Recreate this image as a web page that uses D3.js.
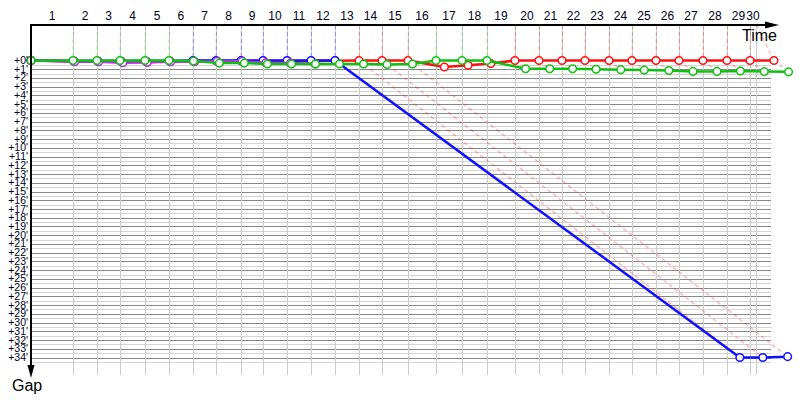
<!DOCTYPE html>
<html>
<head>
<meta charset="utf-8">
<script src="https://cdnjs.cloudflare.com/ajax/libs/d3/7.8.5/d3.min.js"></script>
<style>
  body { margin: 0; background: #fff; }
  svg { display: block; font-family: "Liberation Sans", Arial, sans-serif; }
</style>
</head>
<body>
<div id="chart"></div>
<script>
// leader's cumulative time (minutes) at the end of each lap 1..30
var lapTimes = [3.75, 5.89, 7.95, 10.18, 12.32, 14.46, 16.52, 18.75, 20.71, 22.86,
  25.0, 27.14, 29.29, 31.34, 33.66, 36.16, 38.48, 40.71, 43.21, 45.36,
  47.41, 49.46, 51.61, 53.66, 55.80, 57.86, 60.0, 62.14, 64.2, 66.34];
// race clock runs out here (lap 30 mark is capped to it)
var flagTime = 64.73;
var lapLabels = d3.range(1, 31).map(String);
// who led each lap 1..30
var leaders = ['green', 'green', 'green', 'green', 'green', 'blue', 'blue', 'blue', 'blue', 'blue',
  'blue', 'blue', 'red', 'red', 'red', 'green', 'green', 'green', 'red', 'red',
  'red', 'red', 'red', 'red', 'red', 'red', 'red', 'red', 'red', 'red'];
// gap to leader (minutes) per lap, starting at lap 0
var redGaps = [0, 0.1, 0.1, 0.15, 0.2, 0.1, 0.05, 0.05, 0.05, 0.05, 0.05, 0.05, 0.02,
  0, 0, 0, 0.75, 0.55, 0.35, 0, 0, 0, 0, 0, 0, 0, 0, 0, 0, 0, 0];
var blueGaps = [0, 0.05, 0.05, 0.05, 0.05, 0.05, 0, 0, 0, 0, 0, 0, 0, 34.0, 34.0, 33.9];
var purpleGaps = [0, 0.15, 0.15, 0.25, 0.2, 0.15, 0.15, 0.1, 0.1, 0.25, 0.3, 0.4];
var greenGaps = [0, 0, 0, 0, 0, 0, 0.05, 0.3, 0.3, 0.4, 0.4, 0.4, 0.4, 0.4, 0.45, 0.4,
  0, 0, 0, 0.95, 0.95, 0.95, 1.0, 1.05, 1.1, 1.15, 1.25, 1.25, 1.2, 1.27, 1.3];
var gapTicks = d3.range(0, 35);

var colors = { red: '#ff1010', blue: '#1010ff', purple: '#b030e0', green: '#10c010' };
// drawing order, last on top
var drivers = [
  { name: 'red', gaps: redGaps },
  { name: 'blue', gaps: blueGaps },
  { name: 'purple', gaps: purpleGaps },
  { name: 'green', gaps: greenGaps }
];

var width = 800, height = 400;
var axisY = 25, axisX = 31;

var x = d3.scaleLinear().domain([0, lapTimes[lapTimes.length - 1]]).range([31, 774]);
var y = d3.scaleLinear().domain([0, 34]).range([60.5, 357.5]);

var svg = d3.select('#chart').append('svg')
  .attr('width', width)
  .attr('height', height);

var lapStart = function(n) { return n === 0 ? 0 : lapTimes[n - 1]; };
var markTime = function(n) { return Math.min(lapTimes[n - 1], flagTime); };

// horizontal grid
var grid = svg.append('g');
grid.selectAll('line.half')
  .data(gapTicks)
  .enter().append('line')
  .attr('class', 'half')
  .attr('x1', axisX).attr('x2', 771)
  .attr('y1', function(g) { return Math.round(y(g + 0.5)) + 0.5; })
  .attr('y2', function(g) { return Math.round(y(g + 0.5)) + 0.5; })
  .attr('stroke', '#d4d4d4');
grid.selectAll('line.full')
  .data(gapTicks.slice(1))
  .enter().append('line')
  .attr('class', 'full')
  .attr('x1', axisX).attr('x2', 771)
  .attr('y1', function(g) { return Math.round(y(g)) + 0.5; })
  .attr('y2', function(g) { return Math.round(y(g)) + 0.5; })
  .attr('stroke', '#888888');

// vertical lap grid
grid.selectAll('line.lap')
  .data(d3.range(1, 31))
  .enter().append('line')
  .attr('class', 'lap')
  .attr('x1', function(n) { return Math.round(x(markTime(n))) + 0.5; })
  .attr('x2', function(n) { return Math.round(x(markTime(n))) + 0.5; })
  .attr('y1', axisY).attr('y2', 375)
  .attr('stroke', '#cccccc');

// connectors: axis -> leader, leader -> others
var conn = svg.append('g')
  .attr('fill', 'none')
  .attr('stroke-dasharray', '4,3');
d3.range(1, 31).forEach(function(n) {
  var lead = leaders[n - 1];
  var lx = x(lapTimes[n - 1]);
  conn.append('line')
    .attr('x1', Math.round(x(markTime(n))) + 0.5)
    .attr('y1', axisY)
    .attr('x2', lx).attr('y2', y(0))
    .attr('stroke', colors[lead])
    .attr('stroke-opacity', 0.32)
    .attr('stroke-width', 1.2);
  drivers.forEach(function(d) {
    if (d.name === lead || d.gaps[n] === undefined || d.gaps[n] === 0) return;
    conn.append('line')
      .attr('x1', lx).attr('y1', y(0))
      .attr('x2', x(lapTimes[n - 1] + d.gaps[n]))
      .attr('y2', y(d.gaps[n]))
      .attr('stroke', colors[lead])
      .attr('stroke-opacity', 0.3)
      .attr('stroke-width', 1.5);
  });
});

// driver lines
var line = d3.line()
  .x(function(p) { return x(p.t); })
  .y(function(p) { return y(p.g); });

drivers.forEach(function(d) {
  var pts = d.gaps.map(function(g, n) { return { t: lapStart(n) + g, g: g }; });
  var grp = svg.append('g');
  grp.append('path')
    .datum(pts)
    .attr('d', line)
    .attr('fill', 'none')
    .attr('stroke', colors[d.name])
    .attr('stroke-width', 2.5)
    .attr('stroke-linejoin', 'round');
  grp.selectAll('circle')
    .data(pts)
    .enter().append('circle')
    .attr('cx', function(p) { return x(p.t); })
    .attr('cy', function(p) { return y(p.g); })
    .attr('r', 3.8)
    .attr('fill', '#fff')
    .attr('stroke', colors[d.name])
    .attr('stroke-width', 1.5);
});

// axes
var ax = svg.append('g');
ax.append('line')
  .attr('x1', axisX - 1).attr('y1', axisY)
  .attr('x2', 766).attr('y2', axisY)
  .attr('stroke', '#000').attr('stroke-width', 2);
ax.append('path')
  .attr('d', 'M765,21.5L779,25L765,28.5Z')
  .attr('fill', '#000');
ax.append('line')
  .attr('x1', axisX).attr('y1', axisY)
  .attr('x2', axisX).attr('y2', 366)
  .attr('stroke', '#000').attr('stroke-width', 2);
ax.append('path')
  .attr('d', 'M27.5,365L31,378L34.5,365Z')
  .attr('fill', '#000');

ax.append('text')
  .attr('x', 777).attr('y', 41)
  .attr('text-anchor', 'end')
  .attr('font-size', 16)
  .text('Time');
ax.append('text')
  .attr('x', 12).attr('y', 391)
  .attr('font-size', 16)
  .text('Gap');

// lap labels sit between lap marks
ax.selectAll('text.lap')
  .data(lapLabels)
  .enter().append('text')
  .attr('class', 'lap')
  .attr('x', function(s, i) {
    var a = i === 0 ? x(0) : x(markTime(i));
    return (a + x(markTime(i + 1))) / 2;
  })
  .attr('y', 20)
  .attr('text-anchor', 'middle')
  .attr('font-size', 12)
  .attr('fill', '#000020')
  .text(function(s) { return s; });

// gap labels: rows are tighter than the type, as in the original
ax.selectAll('text.gap')
  .data(gapTicks)
  .enter().append('text')
  .attr('class', 'gap')
  .attr('x', 28)
  .attr('y', function(g) { return y(g) + 3.5; })
  .attr('text-anchor', 'end')
  .attr('font-size', 10.5)
  .attr('fill', '#000020')
  .text(function(g) { return '+' + g + "'"; });
</script>
</body>
</html>
